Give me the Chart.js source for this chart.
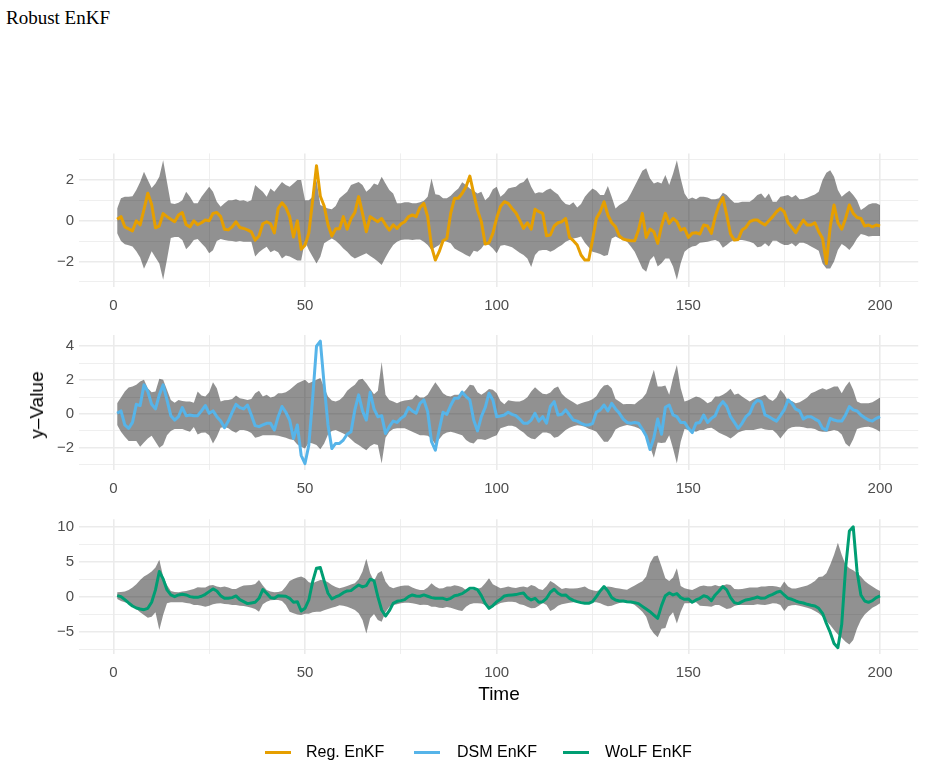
<!DOCTYPE html>
<html>
<head>
<meta charset="utf-8">
<script src="https://cdn.jsdelivr.net/npm/chart.js@4.4.0/dist/chart.umd.min.js"></script>
<style>
  body { margin: 0; width: 928px; height: 769px; background: #fff; position: relative; overflow: hidden;
         font-family: "Liberation Sans", Arial, sans-serif; color: #000; }
  canvas { position: absolute; left: 0; }
  #title { position: absolute; left: 6px; top: 7px; font: 19px "Liberation Serif", serif; }
  #ylab { position: absolute; left: 37px; top: 405px; transform: translate(-50%, -50%) rotate(-90deg);
          font-size: 19px; white-space: nowrap; }
  #xlab { position: absolute; left: 499px; top: 694px; transform: translate(-50%, -50%); font-size: 19px; }
  .key { position: absolute; top: 751px; height: 3px; width: 26px; }
  .lab { position: absolute; top: 743px; font-size: 16px; line-height: 18px; white-space: nowrap; }
</style>
</head>
<body>
<div id="title">Robust EnKF</div>
<canvas id="p1" width="928" height="188" style="top:128px"></canvas>
<canvas id="p2" width="928" height="182" style="top:316px"></canvas>
<canvas id="p3" width="928" height="271" style="top:498px"></canvas>
<div id="ylab">y–Value</div>
<div id="xlab">Time</div>
<div class="key" style="left:265px;background:#E69F00"></div><div class="lab" style="left:306px">Reg. EnKF</div>
<div class="key" style="left:414px;background:#56B4E9"></div><div class="lab" style="left:457px">DSM EnKF</div>
<div class="key" style="left:563px;background:#009E73"></div><div class="lab" style="left:605px">WoLF EnKF</div>

<script>
// time index (x) and tick positions
var time = Array.from({length: 200}, function (_, i) { return i + 1; });
var xMajor = [0, 50, 100, 150, 200];
var xMinor = [25, 75, 125, 175];

// ---- panel 1: Reg. EnKF ----
var regLine = [
  0.07, 0.2, -0.3, -0.4, -0.5, 0, -0.2, 0.55, 1.35, 0.8,
  -0.35, -0.25, 0.35, 0.2, 0.07, -0.05, 0.28, 0.4, -0.2, -0.3,
  0, -0.2, -0.1, 0.03, 0, 0.36, 0.4, 0.2, -0.42, -0.45,
  -0.3, -0.05, -0.33, -0.38, -0.45, -0.55, -0.95, -0.75, -0.15, -0.05,
  -0.15, -0.6, 0.6, 0.88, 0.65, 0.2, -0.8, 0, -1.4, -1.2,
  -0.6, 1.0, 2.7, 1.2, 0.72, -0.2, -0.75, -0.4, -0.4, 0.2,
  -0.42, 0.1, 0.4, 1.18, 0.36, -0.54, 0.2, 0.07, -0.05, 0.11,
  -0.2, -0.46, -0.2, -0.38, -0.16, -0.05, 0.2, 0.28, 0.2, 0.65,
  0.85, 0.2, -1.27, -1.93, -1.52, -0.98, -0.87, 0.36, 1.1, 1.1,
  1.34, 1.67, 2.19, 1.34, 0.52, -0.05, -1.14, -1.08, -0.62, 0.13,
  0.7, 0.93, 0.85, 0.6, 0.39, 0.03, -0.38, -0.1, -0.42, 0.56,
  0.44, 0.36, -0.74, -0.7, -0.26, -0.1, -0.05, 0.11, -0.82, -0.98,
  -1.19, -1.68, -1.93, -1.93, -0.95, 0.11, 0.44, 0.93, 0.28, -0.1,
  -0.3, -0.75, -0.9, -0.95, -0.98, -0.98, -0.46, 0.36, -0.82, -0.41,
  -0.54, -1.11, -0.26, 0.36, -0.13, 0.11, -0.05, -0.46, -0.38, -0.82,
  -0.62, -0.59, -0.65, -0.21, -0.26, -0.62, 0.2, 0.77, 1.14, 0.28,
  -0.65, -0.95, -0.92, -0.46, -0.33, -0.05, 0.03, 0.03, -0.1, -0.21,
  0, 0.2, 0.44, 0.6, 0.44, -0.1, -0.33, -0.59, -0.26, 0.03,
  -0.21, -0.21, -0.1, -0.54, -0.87, -2.1, -0.3, 0.77, -0.1, -0.42,
  0.11, 0.77, 0.36, 0.16, 0.11, -0.26, -0.21, -0.3, -0.21, -0.26
];
var regHi = [
  0.6, 1.1, 1.18, 1.18, 1.2, 1.5, 1.9, 2.4, 2.0, 1.6,
  1.83, 2.15, 2.97, 1.9, 0.85, 0.82, 0.88, 1.0, 1.42, 1.18,
  0.85, 0.85, 1.18, 1.42, 1.67, 1.42, 0.93, 0.69, 0.85, 1.0,
  1.0, 1.05, 0.98, 1.0, 0.93, 1.0, 1.75, 1.58, 1.42, 1.18,
  1.58, 1.42, 1.67, 1.9, 1.75, 1.67, 1.83, 2.0, 2.0, 1.0,
  1.0, 1.18, 2.0, 0.77, 0.69, 0.6, 0.56, 0.72, 1.1, 1.26,
  1.42, 1.75, 1.83, 1.9, 1.75, 1.42, 1.58, 1.83, 1.75, 2.15,
  1.83, 1.5, 1.34, 0.85, 0.85, 0.9, 0.9, 0.85, 0.85, 0.9,
  0.98, 1.18, 2.07, 1.3, 1.26, 1.1, 1.1, 1.22, 1.42, 1.58,
  1.88, 1.75, 1.58, 1.47, 1.34, 1.42, 1.0, 1.18, 1.54, 1.67,
  1.18, 1.34, 1.58, 1.63, 1.67, 1.83, 1.9, 2.12, 1.67, 1.34,
  1.39, 1.37, 1.5, 1.58, 1.42, 1.29, 1.0, 0.82, 0.77, 0.9,
  0.65, 0.82, 1.18, 1.39, 1.58, 1.47, 1.26, 1.26, 1.7, 1.18,
  0.6, 0.77, 0.88, 1.0, 1.34, 1.7, 2.07, 2.45, 2.57, 2.07,
  1.83, 1.9, 1.83, 2.24, 1.75, 2.3, 2.97, 2.07, 1.34, 1.05,
  1.14, 1.05, 1.18, 1.18, 1.14, 1.05, 1.05, 1.1, 1.37, 1.26,
  1.05, 0.88, 0.88, 0.93, 0.93, 0.93, 1.06, 1.26, 1.34, 1.1,
  1.34, 0.93, 0.93, 1.18, 1.21, 1.26, 1.14, 1.26, 1.05, 1.06,
  1.13, 1.21, 1.29, 1.42, 2.0, 2.35, 2.48, 2.16, 1.5, 1.18,
  1.34, 1.47, 1.26, 1.0, 0.52, 0.65, 0.8, 0.85, 0.85, 0.77
];
var regLo = [
  -0.62, -1.0, -1.15, -1.2, -1.27, -1.5, -1.8, -2.35, -1.95, -1.5,
  -1.8, -2.1, -2.9, -1.9, -0.85, -0.8, -0.8, -0.95, -1.4, -1.2,
  -0.95, -0.9, -1.1, -1.3, -1.6, -1.45, -1.0, -0.9, -0.95, -0.98,
  -1.0, -1.03, -1.0, -1.03, -1.03, -1.03, -1.75, -1.55, -1.4, -1.28,
  -1.55, -1.45, -1.55, -1.85, -1.7, -1.75, -1.85, -1.95, -1.95, -1.0,
  -1.44, -1.77, -2.1, -1.77, -1.1, -0.98, -0.87, -0.98, -1.15, -1.36,
  -1.52, -1.73, -1.85, -1.77, -1.68, -1.6, -1.73, -1.85, -2.0, -2.17,
  -1.8, -1.47, -1.19, -1.03, -0.95, -0.92, -0.92, -0.95, -0.92, -0.92,
  -1.03, -1.19, -1.44, -1.3, -1.19, -0.98, -1.03, -1.1, -1.36, -1.47,
  -1.57, -1.68, -1.77, -1.47, -1.52, -1.36, -1.1, -1.19, -1.36, -1.6,
  -1.23, -1.19, -1.24, -1.3, -1.44, -1.57, -1.68, -1.85, -2.27, -1.68,
  -1.47, -1.44, -1.44, -1.52, -1.44, -1.3, -1.19, -1.03, -0.95, -0.87,
  -0.83, -0.78, -1.08, -1.3, -1.52, -1.57, -1.63, -1.73, -1.68, -0.87,
  -0.78, -0.87, -0.95, -1.03, -1.27, -1.52, -1.93, -2.34, -2.5, -1.93,
  -1.73, -2.25, -2.09, -1.85, -1.85, -2.25, -2.9, -2.09, -1.52, -1.36,
  -1.27, -1.23, -1.08, -1.05, -1.03, -0.98, -0.95, -1.03, -1.32, -1.19,
  -1.03, -0.95, -0.95, -0.95, -0.98, -1.03, -1.1, -1.3, -1.27, -1.1,
  -1.27, -0.98, -0.98, -1.1, -1.19, -1.19, -1.1, -1.27, -1.08, -1.08,
  -1.16, -1.27, -1.36, -1.47, -2.1, -2.34, -2.34, -2.0, -1.44, -1.14,
  -1.27, -1.44, -1.19, -0.87, -0.65, -0.7, -0.78, -0.75, -0.75, -0.75
];

// ---- panel 2: DSM EnKF ----
var dsmLine = [
  0.04, 0.18, -0.65, -0.85, -0.5, 0.57, 0.5, 1.72, 1.33, 0.57,
  0.3, 1.13, 1.72, 0.83, -0.1, -0.36, -0.16, 0.38, -0.1, -0.06,
  -0.1, -0.1, 0.18, 0.5, 0.04, 0.18, -0.16, -0.42, -0.81, -0.42,
  0.1, 0.57, 0.38, 0.3, 0.53, -0.06, -0.69, -0.75, -0.65, -0.55,
  -0.55, -0.95, -0.16, 0.44, 0.1, -0.36, -1.45, -0.65, -2.44, -2.93,
  -1.84, 0.93, 4.0, 4.3, 1.72, -0.65, -2.04, -1.74, -1.74, -1.54,
  -1.2, -1.05, 0.24, 1.13, 0.18, -0.36, 1.29, 0.3, -0.16, -0.1,
  -1.15, -0.75, -0.42, -0.5, -0.26, -0.1, 0.38, 0.18, 0.04, 0.63,
  0.83, 0.14, -1.64, -2.14, -0.95, 0.1, -0.02, 0.5, 0.93, 0.93,
  1.29, 1.03, 0.83, -0.36, -1.0, -0.16, 0.38, 1.23, 0.83, -0.16,
  -0.12, -0.06, 0.1, -0.02, -0.1, -0.3, -0.55, -0.55, -0.36, 0.04,
  -0.42, -0.16, -0.55, 0.44, 0.73, -0.06, -0.02, 0.24, -0.06, -0.36,
  -0.42, -0.55, -0.65, -0.65, -0.57, 0.1, 0.24, 0.53, 0.18, 0.63,
  0.3, 0.04, -0.3, -0.5, -0.55, -0.5, -0.55, -0.9, -1.3, -2.1,
  -1.4, -0.3, -1.2, 0.4, 0.53, -0.06, -0.16, -0.5, -0.5, -0.85,
  -1.1, -0.55, -0.5, -0.06, -0.5, -0.26, -0.1, 0.44, 0.73, 0.44,
  -0.16, -0.5, -0.85, -0.55, -0.16, 0.04, 0.57, 0.81, 0.73, -0.06,
  -0.16, -0.3, -0.42, -0.1, 0.24, 0.83, 0.63, 0.28, 0.18, -0.3,
  -0.16, -0.16, -0.3, -0.42, -0.85, -0.95, -0.26, -0.36, -0.42, -0.42,
  -0.06, 0.44, 0.24, 0.18, -0.06, -0.22, -0.36, -0.42, -0.26, -0.16
];
var dsmHi = [
  0.63, 0.97, 1.33, 1.56, 1.62, 1.72, 1.92, 2.02, 1.52, 1.29,
  1.33, 2.08, 2.02, 1.43, 0.83, 0.67, 0.83, 0.77, 0.73, 0.73,
  0.67, 1.33, 1.09, 1.03, 1.29, 1.88, 1.52, 0.73, 0.81, 0.83,
  0.89, 1.09, 0.93, 0.89, 0.83, 0.89, 1.23, 1.37, 1.03, 1.13,
  0.97, 1.03, 1.23, 1.23, 1.29, 1.43, 1.62, 1.82, 1.92, 2.02,
  1.82, 1.92, 2.02, 2.12, 1.56, 1.03, 0.79, 0.73, 0.83, 1.03,
  1.37, 1.56, 1.72, 2.02, 2.08, 1.82, 1.49, 1.17, 1.37, 3.07,
  1.13, 0.83, 0.73, 0.63, 0.73, 0.79, 0.83, 0.87, 1.13, 0.97,
  0.97, 1.13, 1.52, 1.88, 1.56, 1.23, 1.07, 1.03, 1.13, 1.13,
  1.19, 1.43, 1.72, 1.68, 1.29, 1.13, 1.29, 1.47, 1.43, 1.23,
  0.77, 0.57, 0.81, 0.77, 0.73, 0.73, 0.83, 0.99, 1.33, 1.58,
  1.37, 1.19, 1.17, 1.27, 1.52, 1.62, 1.19, 0.97, 0.83, 0.69,
  0.55, 0.63, 0.71, 0.77, 0.87, 1.05, 1.43, 1.68, 1.72, 1.52,
  0.89, 0.73, 0.57, 0.59, 0.59, 0.57, 0.77, 0.93, 1.23, 1.92,
  2.61, 1.62, 1.62, 1.68, 1.13, 2.12, 2.9, 1.52, 0.73, 0.81,
  0.93, 1.03, 0.97, 0.83, 0.63, 0.73, 1.03, 1.03, 1.13, 1.29,
  1.49, 1.13, 1.21, 1.03, 0.89, 0.73, 0.87, 0.97, 1.03, 1.13,
  0.89, 0.77, 0.97, 1.43, 1.17, 0.77, 0.77, 0.63, 0.69, 0.83,
  0.97, 1.23, 1.31, 1.43, 1.52, 1.43, 1.52, 1.62, 1.62, 1.23,
  1.62, 1.92, 1.43, 0.73, 0.63, 0.63, 0.63, 0.69, 0.83, 0.97
];
var dsmLo = [
  -0.65, -1.05, -1.35, -1.6, -1.6, -1.6, -1.94, -1.68, -1.45, -1.29,
  -1.64, -2.0, -1.84, -1.25, -1.01, -0.89, -0.89, -0.89, -0.97, -1.05,
  -0.77, -1.21, -1.11, -1.09, -1.25, -1.74, -1.35, -0.81, -0.77, -0.85,
  -1.01, -1.11, -0.95, -0.95, -1.01, -1.13, -1.41, -1.35, -1.25, -1.25,
  -1.25, -1.25, -1.29, -1.35, -1.41, -1.49, -1.54, -1.8, -1.94, -2.04,
  -1.68, -1.74, -1.84, -2.08, -1.74, -1.21, -1.01, -0.95, -1.05, -1.15,
  -1.29, -1.5, -1.7, -1.84, -2.0, -2.14, -1.9, -1.78, -1.84, -2.93,
  -1.41, -1.05, -0.89, -0.85, -0.85, -0.85, -0.95, -1.05, -1.15, -1.25,
  -1.25, -1.29, -1.45, -1.8, -1.49, -1.21, -1.09, -1.05, -1.11, -1.19,
  -1.25, -1.54, -1.68, -1.74, -1.49, -1.49, -1.54, -1.45, -1.35, -1.25,
  -0.85, -0.77, -0.69, -0.69, -0.77, -0.95, -1.09, -1.31, -1.45, -1.5,
  -1.29, -1.09, -1.09, -1.17, -1.41, -1.35, -1.15, -0.95, -0.81, -0.73,
  -0.67, -0.69, -0.75, -0.87, -0.95, -1.05, -1.35, -1.64, -1.64, -1.35,
  -0.91, -0.79, -0.71, -0.65, -0.69, -0.75, -0.85, -0.99, -1.25, -1.94,
  -2.59, -1.68, -1.72, -1.68, -1.25, -2.04, -2.93, -1.64, -0.89, -0.95,
  -0.99, -1.05, -0.95, -0.95, -0.85, -0.81, -0.95, -1.11, -1.21, -1.31,
  -1.45, -1.29, -1.09, -1.01, -0.95, -0.95, -0.95, -0.89, -0.85, -0.91,
  -0.95, -0.95, -1.15, -1.45, -1.15, -0.89, -0.79, -0.75, -0.75, -0.79,
  -0.85, -0.85, -0.89, -1.01, -1.05, -1.05, -1.01, -0.95, -1.01, -1.21,
  -1.74, -1.94, -1.49, -0.89, -0.81, -0.77, -0.75, -0.81, -0.91, -1.05
];

// ---- panel 3: WoLF EnKF ----
var wolfLine = [
  0.14, 0, -0.43, -0.91, -1.34, -1.63, -1.77, -1.87, -1.67, -0.81,
  0.96, 3.59, 2.54, 0.96, 0.24, 0, 0.24, 0.33, 0.24, 0,
  -0.1, -0.1, 0.05, 0.33, 0.72, 1.1, 0.81, 0.14, -0.24, -0.24,
  -0.14, 0.1, -0.43, -0.72, -1.0, -0.91, -0.81, -0.24, 1.0, 0.48,
  -0.14, -0.24, 0.14, 0.1, 0.05, -0.24, -0.81, -0.72, -2.06, -1.67,
  -0.48, 2.15, 4.07, 4.16, 2.25, 0.48, -0.33, -0.05, 0.19, 0.57,
  0.81, 0.86, 1.29, 1.67, 1.39, 1.58, 2.49, 2.3, 0, -1.91,
  -2.78, -2.01, -0.96, -0.67, -0.57, -0.43, 0, 0.24, 0.1, 0.05,
  0.24, 0.05, -0.14, -0.24, -0.24, -0.24, -0.43, -0.24, 0.14, 0.24,
  0.43, 0.81, 1.2, 1.2, 1.0, 0.14, -0.96, -1.67, -1.29, -0.72,
  -0.38, 0.1, 0.19, 0.24, 0.29, 0.43, 0.53, -0.14, -0.48, -0.24,
  -0.81, -0.72, -0.24, 0.62, 1.05, 0.48, 0.19, 0.24, -0.24, -0.53,
  -0.72, -0.86, -0.96, -0.96, -0.72, 0, 0.81, 1.44, 0.81, -0.14,
  -0.48, -0.62, -0.62, -0.72, -0.77, -0.86, -1.0, -1.39, -1.77, -2.15,
  -2.63, -3.11, -1.29, 0.14, 0.53, 0.24, 0.43, -0.14, -0.38, -0.33,
  -0.81, -0.48, -0.24, 0.14, -0.05, -0.57, 0.24, 0.81, 1.44, 0.96,
  -0.14, -0.86, -1.0, -0.72, -0.48, -0.38, -0.24, -0.05, -0.24, -0.19,
  0.1, 0.33, 0.62, 0.77, 0.24, -0.24, -0.38, -0.62, -0.81, -0.91,
  -1.1, -1.24, -1.34, -1.67, -2.39, -3.83, -5.12, -6.7, -7.3, -4.0,
  4.0, 9.4, 10.0, 3.6, 0.24, -0.62, -0.81, -0.57, -0.14, 0.1
];
var wolfHi = [
  0.62, 0.67, 0.72, 0.96, 1.29, 1.77, 2.39, 2.87, 3.21, 3.59,
  4.16, 5.26, 2.87, 1.67, 0.81, 0.67, 0.62, 0.72, 0.81, 0.96,
  1.1, 1.34, 1.29, 1.29, 1.58, 1.67, 1.44, 1.34, 1.44, 1.29,
  1.1, 1.1, 1.39, 1.58, 1.63, 1.67, 1.82, 2.39, 1.58, 0.96,
  0.72, 0.62, 0.67, 0.81, 1.44, 2.25, 2.54, 2.73, 2.87, 2.63,
  2.06, 1.91, 2.15, 2.39, 2.34, 2.06, 1.67, 1.39, 1.2, 1.34,
  1.53, 1.72, 1.91, 2.49, 3.59, 5.41, 3.35, 2.25, 3.35, 3.68,
  2.15, 1.44, 1.2, 1.39, 1.53, 1.58, 1.58, 1.29, 1.1, 0.96,
  0.96, 1.29, 1.91, 1.44, 1.15, 1.2, 1.44, 1.44, 1.63, 1.53,
  1.34, 0.96, 0.96, 0.96, 1.1, 1.29, 1.91, 2.63, 1.77, 1.48,
  1.2, 1.29, 1.44, 1.29, 1.24, 1.39, 1.44, 1.29, 1.67, 1.48,
  1.1, 0.96, 1.48, 2.25, 1.91, 1.48, 1.1, 1.24, 1.15, 1.15,
  1.2, 1.29, 1.44, 1.1, 0.91, 0.81, 0.96, 1.29, 1.44, 1.39,
  1.24, 1.15, 1.05, 1.0, 1.29, 1.58, 1.91, 2.2, 2.87, 4.78,
  5.74, 5.9, 4.31, 2.63, 2.25, 2.73, 4.07, 1.53, 1.2, 1.05,
  0.96, 1.2, 1.48, 1.58, 1.48, 1.48, 1.67, 1.48, 1.58, 1.77,
  1.67, 1.1, 1.05, 1.1, 1.2, 1.29, 1.29, 1.29, 1.44, 1.44,
  1.53, 1.53, 1.44, 1.29, 2.15, 1.44, 1.15, 1.15, 1.29, 1.44,
  1.58, 1.87, 2.25, 2.82, 2.87, 3.35, 4.55, 5.98, 7.7, 5.98,
  4.55, 4.07, 3.78, 3.35, 2.87, 2.25, 1.82, 1.44, 1.1, 0.81
];
var wolfLo = [
  -0.33, -0.62, -0.81, -1.0, -1.44, -1.77, -2.25, -2.63, -3.01, -2.87,
  -2.25, -4.78, -2.63, -0.96, -0.81, -0.81, -0.81, -0.81, -0.91, -1.0,
  -1.2, -1.2, -1.29, -1.44, -1.29, -1.1, -1.0, -0.96, -1.05, -1.1,
  -1.2, -1.2, -1.29, -1.34, -1.44, -1.58, -1.77, -2.15, -1.1, -0.72,
  -0.53, -0.48, -0.48, -0.62, -1.2, -2.15, -2.39, -2.54, -2.63, -2.44,
  -2.44, -2.25, -2.15, -2.15, -1.96, -1.77, -1.58, -1.44, -1.24, -1.29,
  -1.44, -1.67, -1.91, -2.39, -3.35, -5.26, -3.11, -2.49, -3.35, -3.59,
  -2.25, -1.44, -1.2, -1.1, -0.96, -0.86, -0.86, -0.96, -1.05, -1.2,
  -1.15, -1.2, -1.44, -1.44, -1.58, -1.63, -1.48, -1.58, -1.77, -1.96,
  -2.06, -1.44, -1.1, -0.96, -0.96, -1.0, -1.2, -1.67, -1.44, -1.2,
  -0.91, -0.81, -0.72, -0.72, -0.81, -1.1, -1.2, -1.44, -1.67, -1.63,
  -1.29, -0.91, -1.2, -2.06, -1.77, -1.29, -1.1, -1.0, -0.86, -0.81,
  -0.81, -0.81, -0.81, -0.81, -0.81, -0.81, -0.96, -1.2, -1.39, -1.29,
  -1.1, -0.91, -0.81, -0.81, -0.91, -1.2, -1.67, -2.15, -2.87, -4.5,
  -5.26, -5.8, -4.59, -4.5, -2.87, -2.25, -3.83, -2.15, -0.96, -0.96,
  -0.86, -0.81, -1.29, -1.34, -1.39, -1.44, -1.2, -1.2, -1.48, -1.77,
  -1.67, -1.34, -1.2, -1.2, -1.2, -1.2, -1.2, -1.1, -1.15, -1.2,
  -1.1, -0.96, -1.0, -1.2, -2.06, -1.39, -1.24, -1.2, -1.29, -1.44,
  -1.58, -1.77, -2.06, -2.39, -2.87, -3.49, -4.07, -4.78, -5.41, -5.89,
  -6.46, -6.84, -6.22, -4.55, -3.35, -2.54, -2.06, -1.58, -1.29, -0.96
];

// y tick labels per panel (major) and minor grid positions
var yMajor1 = [-2, 0, 2],      yMinor1 = [-3, -1, 1, 3];
var yMajor2 = [-2, 0, 2, 4],   yMinor2 = [-3, -1, 1, 3];
var yMajor3 = [-5, 0, 5, 10],  yMinor3 = [-7.5, -2.5, 2.5, 7.5];

Chart.defaults.font.family = '"Liberation Sans", Arial, sans-serif';

var bandColor = 'rgba(0, 0, 0, 0.43)';
var gridColor = '#ebebeb';
var tickFont = { size: 15 };

function pts(arr) {
  return arr.map(function (v, i) { return { x: time[i], y: v }; });
}

function tickList(major, minor) {
  return major.concat(minor).sort(function (a, b) { return a - b; })
    .map(function (v) { return { value: v }; });
}

function fmt(v) {
  return v < 0 ? '\u2212' + Math.abs(v) : String(v);
}

function panel(id, line, hi, lo, colour, yMin, yMax, yMajor, yMinor, padTop, padBottom, xHeight) {
  var ctx = document.getElementById(id).getContext('2d');
  return new Chart(ctx, {
    type: 'line',
    data: {
      datasets: [
        { data: pts(line), borderColor: colour, borderWidth: 3, pointRadius: 0,
          fill: false, tension: 0, borderJoinStyle: 'round' },
        { data: pts(hi), borderColor: 'rgba(0,0,0,0)', borderWidth: 0, pointRadius: 0,
          fill: '+1', backgroundColor: bandColor, tension: 0 },
        { data: pts(lo), borderColor: 'rgba(0,0,0,0)', borderWidth: 0, pointRadius: 0,
          fill: false, tension: 0 }
      ]
    },
    options: {
      responsive: false,
      animation: false,
      devicePixelRatio: 1,
      layout: { padding: { left: 0, right: 9.8, top: padTop, bottom: padBottom } },
      plugins: { legend: { display: false }, tooltip: { enabled: false } },
      scales: {
        x: {
          type: 'linear', min: -8.95, max: 209.95,
          afterBuildTicks: function (s) { s.ticks = tickList(xMajor, xMinor); },
          afterFit: function (s) { s.height = xHeight; },
          ticks: {
            autoSkip: false, maxRotation: 0, padding: 10, color: '#4d4d4d', font: tickFont,
            callback: function (v) { return xMajor.indexOf(v) >= 0 ? fmt(v) : ''; }
          },
          grid: {
            color: gridColor, drawTicks: false,
            lineWidth: function (c) { return c.tick && xMajor.indexOf(c.tick.value) >= 0 ? 1.6 : 0.8; }
          },
          border: { display: false }
        },
        y: {
          min: yMin, max: yMax,
          afterBuildTicks: function (s) { s.ticks = tickList(yMajor, yMinor); },
          afterFit: function (s) { s.width = 79; },
          ticks: {
            autoSkip: false, padding: 5, color: '#4d4d4d', font: tickFont,
            callback: function (v) { return yMajor.indexOf(v) >= 0 ? fmt(v) : ''; }
          },
          grid: {
            color: gridColor, drawTicks: false,
            lineWidth: function (c) { return c.tick && yMajor.indexOf(c.tick.value) >= 0 ? 1.6 : 0.8; }
          },
          border: { display: false }
        }
      }
    }
  });
}

panel('p1', regLine, regHi, regLo, '#E69F00', -3.25, 3.3, yMajor1, yMinor1, 25.4, 0, 29);
panel('p2', dsmLine, dsmHi, dsmLo, '#56B4E9', -3.31, 4.66, yMajor2, yMinor2, 19.1, 0, 28);
panel('p3', wolfLine, wolfHi, wolfLo, '#009E73', -8.18, 11.08, yMajor3, yMinor3, 21.2, 86.2, 29);
</script>
</body>
</html>
